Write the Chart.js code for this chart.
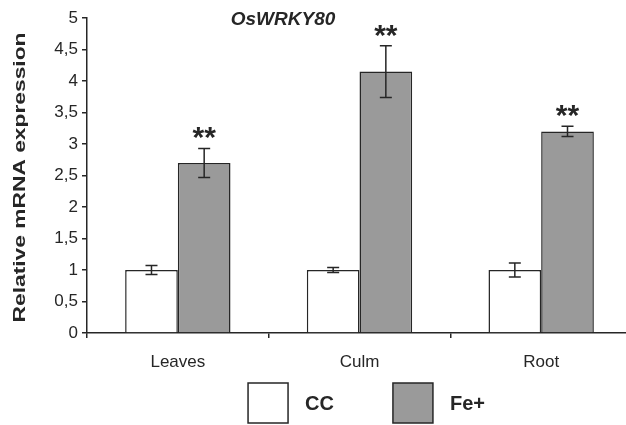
<!DOCTYPE html>
<html>
<head>
<meta charset="utf-8">
<script src="https://cdn.jsdelivr.net/npm/chart.js@4.4.1/dist/chart.umd.min.js"></script>
<style>
  html, body { margin: 0; padding: 0; background: #ffffff; overflow: hidden; }
  #wrap { width: 626px; height: 425px; overflow: hidden; position: relative; }
  canvas { display: block; }
</style>
</head>
<body>
<div id="wrap"><canvas id="chart" width="632" height="425"></canvas></div>
<script>
// Relative OsWRKY80 transcript levels per organ, control vs iron excess
const categories = ['Leaves', 'Culm', 'Root'];
const seriesNames = ['CC', 'Fe+'];
const ccValues = [1.0, 1.0, 1.0];
const ccErrors = [0.07, 0.04, 0.11];
const feValues = [2.7, 4.15, 3.2];
const feErrors = [0.23, 0.41, 0.08];
const feSignificance = ['**', '**', '**'];
const yTickLabels = ['0', '0,5', '1', '1,5', '2', '2,5', '3', '3,5', '4', '4,5', '5'];
const chartTitle = 'OsWRKY80';
const yAxisTitle = 'Relative mRNA expression';

const FONT = "'Liberation Sans', Arial, Helvetica, sans-serif";
const INK = '#262626';
const GREY = '#9a9a9a';

// Error bars and significance stars, placed through the chart's scales
const errorBarPlugin = {
  id: 'errorBars',
  afterDatasetsDraw(chart) {
    const ctx = chart.ctx;
    const y = chart.scales.y;
    ctx.save();
    ctx.strokeStyle = INK;
    ctx.lineWidth = 1.5;
    chart.data.datasets.forEach((ds, di) => {
      const meta = chart.getDatasetMeta(di);
      meta.data.forEach((bar, i) => {
        const v = ds.data[i];
        const e = ds.errors[i];
        const top = y.getPixelForValue(v + e);
        const bot = y.getPixelForValue(v - e);
        const cap = 6;
        ctx.beginPath();
        ctx.moveTo(bar.x, top); ctx.lineTo(bar.x, bot);
        ctx.moveTo(bar.x - cap, top); ctx.lineTo(bar.x + cap, top);
        ctx.moveTo(bar.x - cap, bot); ctx.lineTo(bar.x + cap, bot);
        ctx.stroke();
        if (ds.stars && ds.stars[i]) {
          ctx.fillStyle = INK;
          ctx.font = 'bold 30px ' + FONT;
          ctx.textAlign = 'center';
          ctx.textBaseline = 'alphabetic';
          ctx.fillText(ds.stars[i], bar.x, top - 1);
        }
      });
    });
    ctx.restore();
  }
};

// Title, vertical axis caption and the boxed legend underneath
const decorPlugin = {
  id: 'decor',
  afterDraw(chart) {
    const ctx = chart.ctx;
    const area = chart.chartArea;
    ctx.save();
    ctx.fillStyle = INK;

    ctx.font = 'italic bold 19px ' + FONT;
    ctx.textAlign = 'center';
    ctx.textBaseline = 'middle';
    ctx.fillText(chartTitle, 283, 20);

    ctx.save();
    ctx.translate(20, (area.top + area.bottom) / 2 + 2);
    ctx.rotate(-Math.PI / 2);
    ctx.font = 'bold 17px ' + FONT;
    const w = ctx.measureText(yAxisTitle).width;
    ctx.scale(290 / w, 1);
    ctx.textAlign = 'center';
    ctx.textBaseline = 'middle';
    ctx.fillText(yAxisTitle, 0, 0);
    ctx.restore();

    const box = 40, gap = 17, itemGap = 59, top = 383;
    ctx.font = 'bold 20px ' + FONT;
    const widths = seriesNames.map(n => box + gap + ctx.measureText(n).width);
    const total = widths.reduce((a, b) => a + b, 0) + itemGap * (widths.length - 1);
    let x = (area.left + area.right) / 2 + 7 - total / 2;
    chart.data.datasets.forEach((ds, i) => {
      ctx.fillStyle = ds.backgroundColor;
      ctx.fillRect(x, top, box, box);
      ctx.strokeStyle = INK;
      ctx.lineWidth = 1.5;
      ctx.strokeRect(x, top, box, box);
      ctx.fillStyle = INK;
      ctx.textAlign = 'left';
      ctx.textBaseline = 'middle';
      ctx.fillText(seriesNames[i], x + box + gap, top + box / 2 + 1);
      x += widths[i] + itemGap;
    });
    ctx.restore();
  }
};

new Chart(document.getElementById('chart'), {
  type: 'bar',
  data: {
    labels: categories,
    datasets: [
      { label: seriesNames[0], data: ccValues, errors: ccErrors,
        backgroundColor: '#ffffff', borderColor: INK, borderWidth: 1.5 },
      { label: seriesNames[1], data: feValues, errors: feErrors, stars: feSignificance,
        backgroundColor: GREY, borderColor: INK, borderWidth: 1.5 }
    ]
  },
  options: {
    responsive: false,
    animation: false,
    events: [],
    layout: { padding: { top: 18, right: 0, bottom: 0, left: 0 } },
    datasets: { bar: { barPercentage: 1.0, categoryPercentage: 0.58 } },
    plugins: { legend: { display: false }, tooltip: { enabled: false }, title: { display: false } },
    scales: {
      x: {
        grid: { offset: true, drawOnChartArea: false, drawTicks: true, tickLength: 5, color: INK, lineWidth: 1.5 },
        border: { display: true, color: INK, width: 1.5 },
        ticks: { color: INK, font: { family: FONT, size: 17 }, padding: 14 },
        afterFit(scale) { scale.height = 92; }
      },
      y: {
        min: 0, max: 5,
        grid: { drawOnChartArea: false, drawTicks: true, tickLength: 5, color: INK, lineWidth: 1.5 },
        border: { display: true, color: INK, width: 1.5 },
        ticks: {
          stepSize: 0.5, color: INK, padding: 4,
          font: { family: FONT, size: 17 },
          callback: (v, i) => yTickLabels[i]
        },
        afterFit(scale) { scale.width = 87; }
      }
    }
  },
  plugins: [errorBarPlugin, decorPlugin]
});
</script>
</body>
</html>
